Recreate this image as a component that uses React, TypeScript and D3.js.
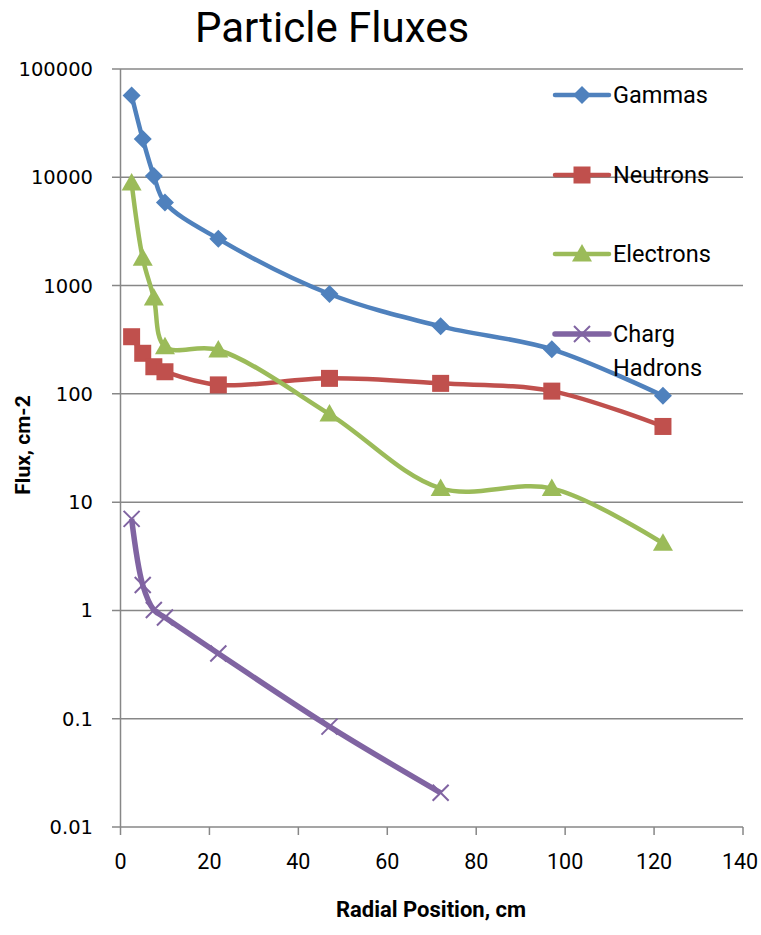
import React from "react";
import * as d3 from "d3";

const xValues = [2.5, 5, 7.5, 10, 22, 47, 72, 97, 122];
const gammas = [57000, 22600, 10300, 5850, 2700, 836, 420, 258, 96];
const neutrons = [337, 237, 178, 160, 121, 139, 125, 106, 50];
const electrons = [8860, 1790, 768, 273, 254, 65, 13.4, 13.4, 4.17];
const chargHadrons = [7.0, 1.72, 1.01, 0.86, 0.4, 0.0845, 0.0207];
const xTicks = [0, 20, 40, 60, 80, 100, 120, 140];
const yTicks = [0.01, 0.1, 1, 10, 100, 1000, 10000, 100000];
const yTickLabels = ["0.01", "0.1", "1", "10", "100", "1000", "10000", "100000"];

const W = 761, H = 935;
const L = 120.5, R = 743, T = 69, B = 827;
const narrow = "'Roboto', 'Liberation Sans', sans-serif";

type Series = { name: string[]; values: number[]; color: string; marker: string; width: number };
const series: Series[] = [
  { name: ["Gammas"], values: gammas, color: "#4F81BD", marker: "diamond", width: 4.5 },
  { name: ["Neutrons"], values: neutrons, color: "#C0504D", marker: "square", width: 4.5 },
  { name: ["Electrons"], values: electrons, color: "#9BBB59", marker: "triangle", width: 4.5 },
  { name: ["Charg", "Hadrons"], values: chargHadrons, color: "#8064A2", marker: "x", width: 5.5 },
];

function Marker({ type, x, y, color }: { type: string; x: number; y: number; color: string }) {
  if (type === "diamond") {
    const s = 9;
    return <path d={`M${x},${y - s}L${x + s},${y}L${x},${y + s}L${x - s},${y}Z`} fill={color} />;
  }
  if (type === "square") {
    const s = 8.5;
    return <rect x={x - s} y={y - s} width={2 * s} height={2 * s} fill={color} />;
  }
  if (type === "triangle") {
    const s = 10;
    return <path d={`M${x},${y - s}L${x + s},${y + s * 0.75}L${x - s},${y + s * 0.75}Z`} fill={color} />;
  }
  const s = 8;
  return (
    <path d={`M${x - s},${y - s}L${x + s},${y + s}M${x - s},${y + s}L${x + s},${y - s}`} stroke={color} strokeWidth={2} fill="none" />
  );
}

export default function App() {
  const x = d3.scaleLinear().domain([0, 140]).range([L, R]);
  const y = d3.scaleLog().domain([0.01, 100000]).range([B, T]);
  const line = d3
    .line<[number, number]>()
    .x((d) => x(d[0]))
    .y((d) => y(d[1]))
    .curve(d3.curveCatmullRom.alpha(0.5));

  const legendY = [95, 175, 254, 334];

  return (
    <svg width={W} height={H} style={{ position: "absolute", left: 0, top: 0, background: "#fff" }}>
      <text x={332} y={42} fontFamily={narrow} fontSize={42} textAnchor="middle" fill="#000">
        Particle Fluxes
      </text>
      {yTicks.map((t, i) => (
        <g key={t}>
          <line x1={112} x2={R} y1={y(t)} y2={y(t)} stroke="#878787" strokeWidth={1.5} />
          <text x={93} y={y(t)} dy="0.36em" textAnchor="end" fontFamily="'DejaVu Sans', sans-serif" fontSize={19.5} fill="#000">
            {yTickLabels[i]}
          </text>
        </g>
      ))}
      <line x1={L} x2={L} y1={T} y2={B} stroke="#878787" strokeWidth={1.5} />
      {xTicks.map((t) => (
        <g key={t}>
          <line x1={x(t)} x2={x(t)} y1={B} y2={B + 8} stroke="#878787" strokeWidth={1.5} />
          <text x={Math.min(x(t), 740)} y={869} textAnchor="middle" fontFamily={narrow} fontSize={21.5} fill="#000">
            {t}
          </text>
        </g>
      ))}
      <text transform="translate(30,445) rotate(-90)" textAnchor="middle" fontFamily={narrow} fontWeight="bold" fontSize={21} fill="#000">
        Flux, cm-2
      </text>
      <text x={431} y={917} textAnchor="middle" fontFamily={narrow} fontWeight="bold" fontSize={22} fill="#000">
        Radial Position, cm
      </text>
      {series.map((s) => {
        const pts: [number, number][] = s.values.map((v, i) => [xValues[i], v]);
        return (
          <g key={s.name[0]}>
            <path d={line(pts) || ""} fill="none" stroke={s.color} strokeWidth={s.width} strokeLinejoin="round" />
            {pts.map((p, i) => (
              <Marker key={i} type={s.marker} x={x(p[0])} y={y(p[1])} color={s.color} />
            ))}
          </g>
        );
      })}
      {series.map((s, i) => (
        <g key={"leg" + i}>
          <line x1={555} x2={609} y1={legendY[i]} y2={legendY[i]} stroke={s.color} strokeWidth={s.width} strokeLinecap="round" />
          <Marker type={s.marker} x={582} y={legendY[i]} color={s.color} />
          {s.name.map((n, j) => (
            <text key={n} x={613} y={legendY[i] + j * 34} dy="0.35em" fontFamily={narrow} fontSize={23.5} fill="#000">
              {n}
            </text>
          ))}
        </g>
      ))}
    </svg>
  );
}
